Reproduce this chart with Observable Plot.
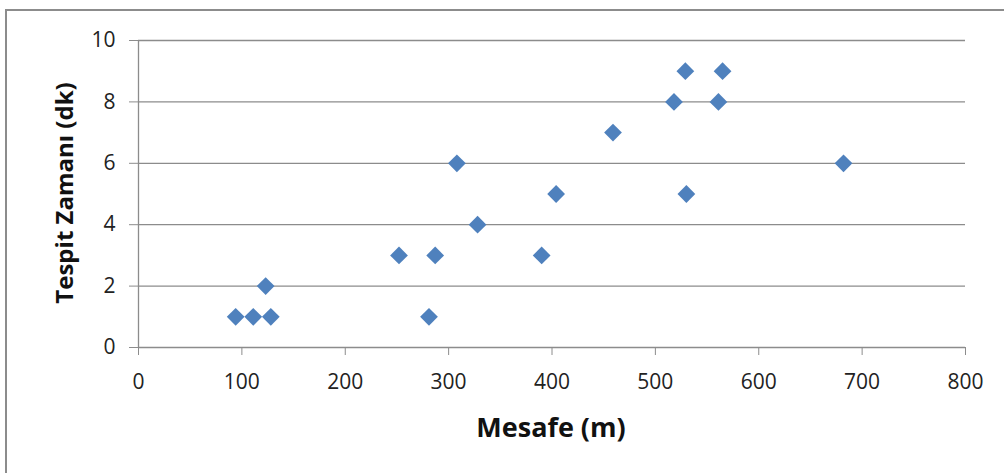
<!DOCTYPE html>
<html>
<head>
<meta charset="utf-8">
<script src="https://cdn.jsdelivr.net/npm/d3@7"></script>
<script src="https://cdn.jsdelivr.net/npm/@observablehq/plot@0.6"></script>
<style>
  html, body { margin: 0; padding: 0; background: #fff; }
  #wrap { position: relative; width: 1004px; height: 473px; overflow: hidden; }
  #frame { position: absolute; left: 5px; top: 9px; width: 1010px; height: 480px; border: 2px solid #8c8c8c; box-sizing: border-box; pointer-events: none; }
  #wrap svg text { font-family: "Open Sans", "Liberation Sans", sans-serif; }
  #wrap svg g[aria-label="x-axis tick label"], #wrap svg g[aria-label="y-axis tick label"] { font-size: 21px !important; }
</style>
</head>
<body>
<div id="wrap"><div id="frame"></div></div>
<script>
const distance = [94, 111, 128, 123, 252, 287, 281, 308, 328, 390, 404, 459, 518, 529, 530, 561, 565, 682];
const duration = [1, 1, 1, 2, 3, 3, 1, 6, 4, 3, 5, 7, 8, 9, 5, 8, 9, 6];
const xTicks = [0, 100, 200, 300, 400, 500, 600, 700, 800];
const yTicks = [0, 2, 4, 6, 8, 10];
const xTitle = "Mesafe (m)";
const yTitle = "Tespit Zamanı (dk)";

const data = distance.map((d, i) => ({x: d, y: duration[i]}));
const gridColor = "#8c8c8c";

const chart = Plot.plot({
  width: 1004,
  height: 473,
  marginLeft: 138,
  marginRight: 39,
  marginTop: 40,
  marginBottom: 126,
  style: {background: "transparent"},
  x: {domain: [0, 800]},
  y: {domain: [0, 10]},
  marks: [
    Plot.ruleY(yTicks.filter(d => d > 0), {stroke: gridColor, strokeWidth: 1.3, x1: 0, x2: 800}),
    Plot.axisY({ticks: yTicks, tickSize: 9, tickPadding: 14, fontSize: 21, stroke: gridColor, fill: "#222", label: null, tickFormat: d => String(d)}),
    Plot.axisX({ticks: xTicks, tickSize: 8, tickPadding: 19, fontSize: 21, stroke: gridColor, fill: "#222", label: null, tickFormat: d => String(d)}),
    Plot.ruleX([0], {stroke: gridColor, strokeWidth: 1.3}),
    Plot.ruleY([0], {stroke: gridColor, strokeWidth: 1.3}),
    Plot.dot(data, {x: "x", y: "y", symbol: "diamond2", r: 8, fill: "#4f81bd", stroke: "none"})
  ]
});
const wrap = document.getElementById("wrap");
wrap.insertBefore(chart, wrap.firstChild);
chart.style.position = "absolute";
chart.style.left = "0"; chart.style.top = "0";

const ns = "http://www.w3.org/2000/svg";
function addText(str, transform, size) {
  const t = document.createElementNS(ns, "text");
  t.setAttribute("transform", transform);
  t.setAttribute("text-anchor", "middle");
  t.setAttribute("font-size", size);
  t.setAttribute("font-weight", "bold");
  t.setAttribute("fill", "#111");
  t.textContent = str;
  chart.appendChild(t);
}
addText(xTitle, "translate(551,437)", 27);
addText(yTitle, "translate(73,193) rotate(-90)", 24);
</script>
</body>
</html>
